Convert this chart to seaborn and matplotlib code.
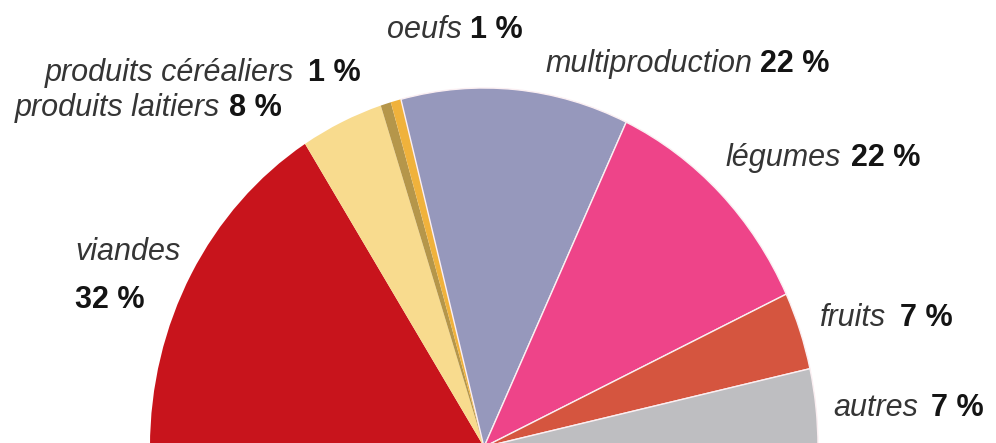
import matplotlib
matplotlib.use("Agg")
import matplotlib.pyplot as plt
import seaborn as sns

# ---- data ----
categories = ["viandes", "produits laitiers", "produits céréaliers", "oeufs",
              "multiproduction", "légumes", "fruits", "autres"]
shares = [32, 8, 1, 1, 22, 22, 7, 7]
pct_labels = ["32 %", "8 %", "1 %", "1 %", "22 %", "22 %", "7 %", "7 %"]
colors = ["#C8141C", "#F8DB8E", "#B5964A", "#F0B23C",
          "#9698BC", "#EE4489", "#D5553F", "#BEBEC1"]

sns.set_theme(style="white")
plt.rcParams["font.family"] = ["Liberation Sans", "DejaVu Sans"]

W, H = 996, 443
fig = plt.figure(figsize=(W / 100, H / 100), dpi=100)
ax = fig.add_axes([0, 0, 1, 1])

# half pie: add an invisible filler equal to the total
total = sum(shares)
vals = shares + [total]
cols = sns.color_palette(colors) + [(1, 1, 1, 0)]
wedges, _ = ax.pie(vals, colors=cols, startangle=180, counterclock=False,
                   radius=1.0, center=(0, 0),
                   wedgeprops=dict(edgecolor="none", linewidth=1.0))
wedges[-1].set_facecolor("none")
# thin light separators only on the right-hand slices
for w in wedges[4:-1]:
    w.set_edgecolor("#FBEFF2")

# pixel geometry: centre at (484, 447) from top, radii 334 x 359 px
cx, cy, rx, ry = 484, 447, 334, 359
ax.set_xlim(-cx / rx, (W - cx) / rx)
ax.set_ylim(-(H - cy) / ry, cy / ry)
ax.set_aspect("auto")
ax.axis("off")

# label placement (axes fraction, left edge of name text, vertical center, gap px)
label_pos = {
    "viandes": (75 / W, 1 - 252 / H, 0),
    "produits laitiers": (15 / W, 1 - 108 / H, 9),
    "produits céréaliers": (45 / W, 1 - 73 / H, 14),
    "oeufs": (387 / W, 1 - 30 / H, 8),
    "multiproduction": (545 / W, 1 - 64 / H, 8),
    "légumes": (726 / W, 1 - 158 / H, 10),
    "fruits": (820 / W, 1 - 318 / H, 14),
    "autres": (833 / W, 1 - 408 / H, 13),
}
fs = 22
name_color = "#353535"
pct_color = "#141414"
for cat, pct in zip(categories, pct_labels):
    x, y, gap = label_pos[cat]
    t = ax.text(x, y, cat, transform=ax.transAxes, ha="left", va="center",
                fontsize=fs, style="italic", color=name_color)
    if cat == "viandes":
        ax.annotate(pct, xy=(0, 0), xycoords=t, xytext=(0, -13),
                    textcoords="offset points", ha="left", va="top",
                    fontsize=fs, fontweight="bold", color=pct_color)
    else:
        ax.annotate(pct, xy=(1, 0.5), xycoords=t, xytext=(gap * 0.72, 0),
                    textcoords="offset points", ha="left", va="center",
                    fontsize=fs, fontweight="bold", color=pct_color)

fig.savefig("out.png", dpi=100)
